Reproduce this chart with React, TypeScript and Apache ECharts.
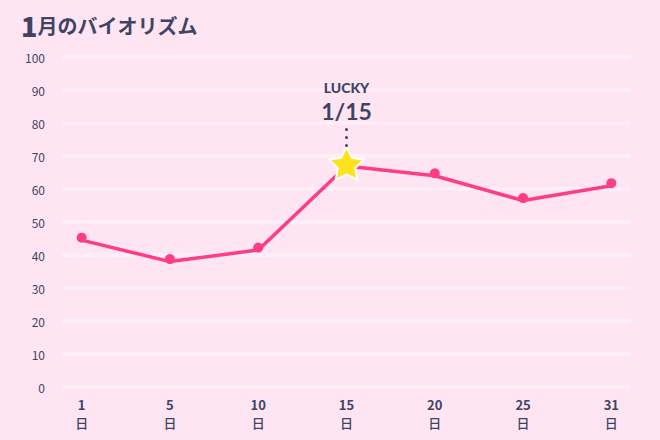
import React, { useEffect, useRef } from 'react';
import * as echarts from 'echarts';

const days = ['1', '5', '10', '15', '20', '25', '31'];
const values = [44.5, 38, 41.5, 67, 64, 56.5, 61];
const luckyIndex = 3;
const luckyLabel = '1/15';

const ink = '#3d4466';
const pink = '#ff3d84';
const font = '"Noto Sans CJK JP", "Noto Sans", sans-serif';
const latin = 'Lato, "Noto Sans", sans-serif';

const starPath =
  'path://M100,0L129.39,59.55L195.11,69.1L147.55,115.45L158.78,180.9L100,150L41.22,180.9L52.45,115.45L4.89,69.1L70.61,59.55Z';

const App: React.FC = () => {
  const chartRef = useRef<HTMLDivElement>(null);

  useEffect(() => {
    document.body.style.margin = '0';
    const chart = echarts.init(chartRef.current, null, { renderer: 'svg' });

    const points = days.map((d, i) => {
      if (i === luckyIndex) {
        return {
          value: [i, values[i]],
          symbol: starPath,
          symbolSize: [35, 33],
          itemStyle: { color: '#ffe11f', borderColor: '#ffffff', borderWidth: 2 },
        };
      }
      return { value: [i, values[i]] };
    });

    const option = {
      animation: false,
      backgroundColor: '#ffe4f1',
      textStyle: { fontFamily: font },
      title: {
        left: 16,
        top: 7,
        text: '{a|1}{b|月のバイオリズム}',
        textStyle: {
          rich: {
            a: { fontSize: 27, fontWeight: 900, color: ink, fontFamily: font },
            b: { fontSize: 20, fontWeight: 'bold', color: ink, fontFamily: font },
          },
        },
      },
      grid: { left: 64, right: 31, top: 57, bottom: 53 },
      xAxis: {
        type: 'value',
        min: -0.2,
        max: 6.2,
        axisLine: { show: false },
        axisTick: { show: false },
        splitLine: { show: false },
        axisLabel: {
          customValues: days.map((d, i) => i),
          margin: 8,
          formatter: (v: number) => `{n|${days[Math.round(v)]}}\n{d|日}`,
          rich: {
            n: { fontSize: 13, fontWeight: 'bold', color: ink, lineHeight: 18, fontFamily: font },
            d: { fontSize: 13, fontWeight: 500, color: ink, lineHeight: 18, fontFamily: font },
          },
        },
      },
      yAxis: {
        type: 'value',
        min: 0,
        max: 100,
        interval: 10,
        axisLine: { show: false },
        axisTick: { show: false },
        axisLabel: { color: ink, fontSize: 12, margin: 19, fontFamily: font },
        splitLine: { lineStyle: { color: '#ffeef6', width: 4, cap: 'round' } },
      },
      series: [
        {
          type: 'line',
          data: points,
          symbol: 'circle',
          symbolSize: 10,
          symbolOffset: [0, -2.5],
          itemStyle: { color: pink },
          lineStyle: { color: pink, width: 3.5 },
          emphasis: { disabled: true },
          markLine: {
            silent: true,
            symbol: ['none', 'none'],
            animation: false,
            lineStyle: { color: ink, width: 3, type: [0, 8], cap: 'round' },
            label: {
              show: true,
              position: 'end',
              distance: 4,
              formatter: `{a|LUCKY}\n{b|${luckyLabel}}`,
              rich: {
                a: { fontSize: 14, fontWeight: 900, color: ink, lineHeight: 18, align: 'center', fontFamily: latin },
                b: { fontSize: 23, fontWeight: 'bold', color: ink, lineHeight: 28, align: 'center', fontFamily: latin },
              },
            },
            data: [[{ coord: [luckyIndex, 73.2] }, { coord: [luckyIndex, 78.2] }]],
          },
        },
      ],
    };

    chart.setOption(option);

    return () => {
      chart.dispose();
    };
  }, []);

  return <div ref={chartRef} style={{ width: '660px', height: '440px' }} />;
};

export default App;
